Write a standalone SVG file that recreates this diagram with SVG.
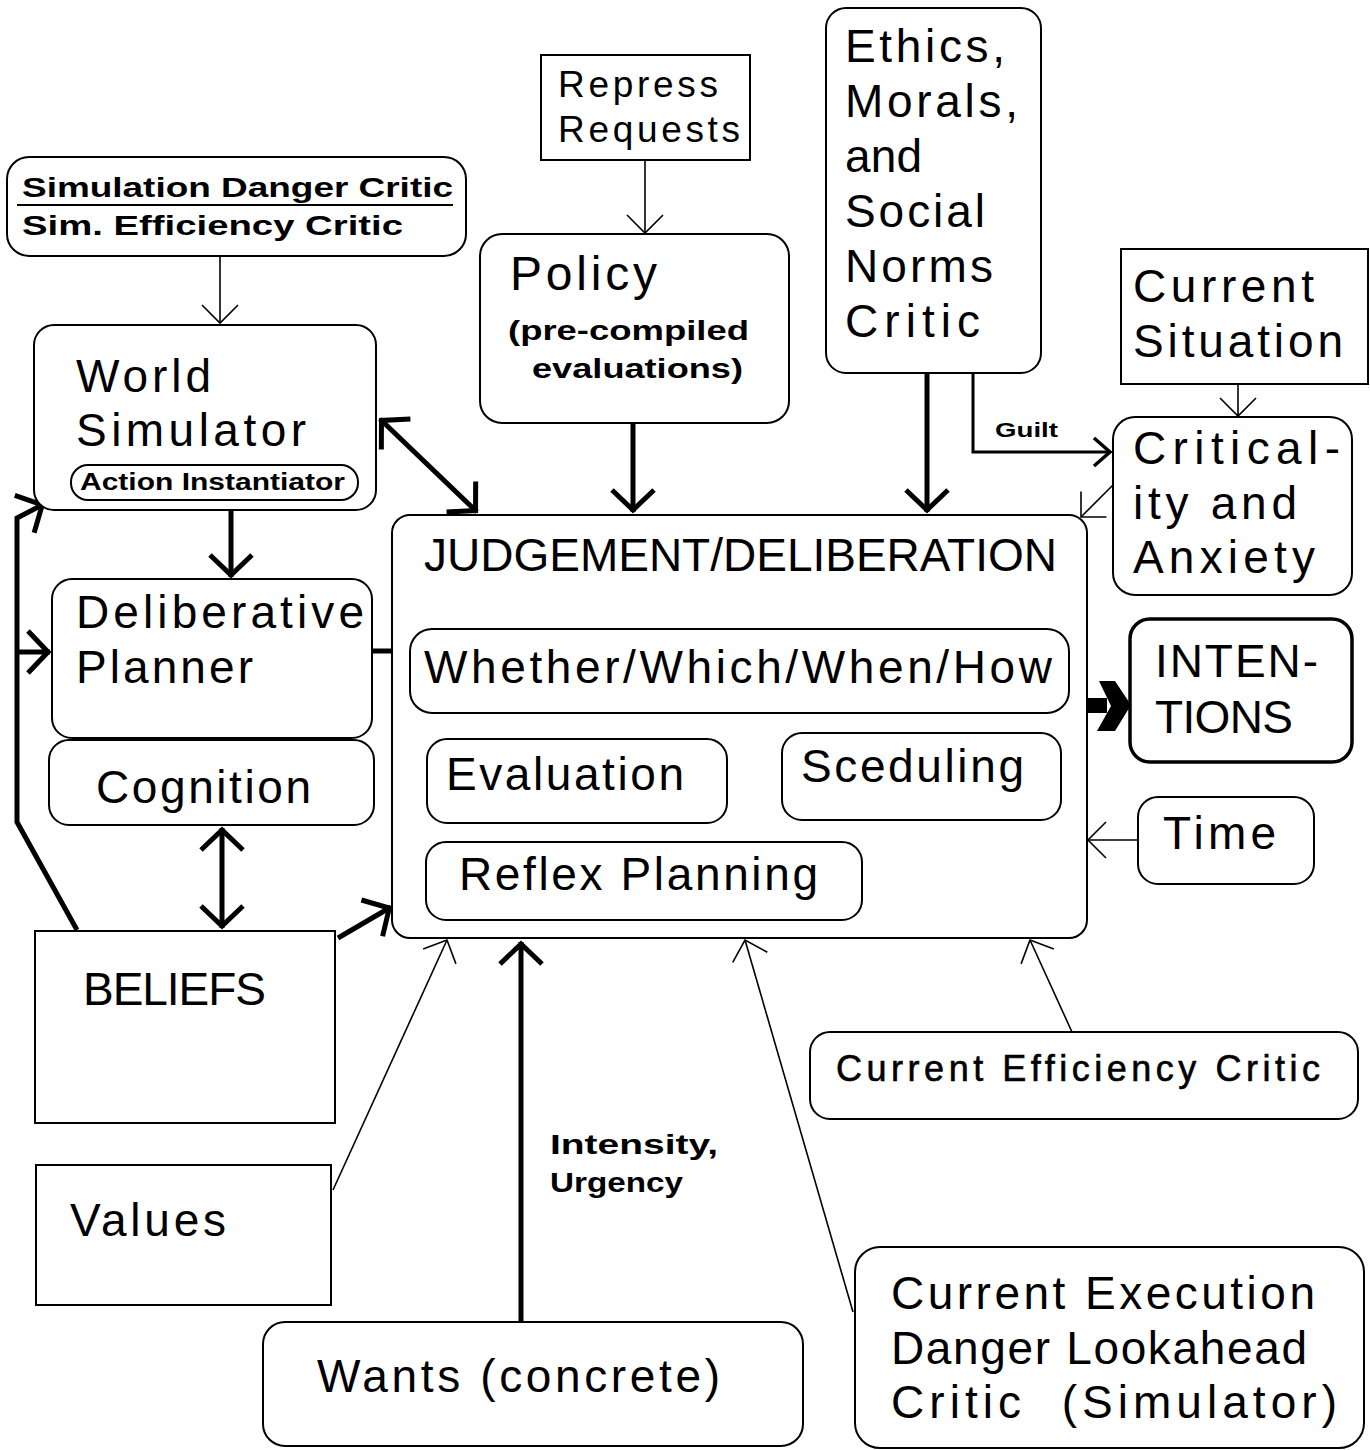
<svg xmlns="http://www.w3.org/2000/svg" width="1370" height="1450" viewBox="0 0 1370 1450">
  <style>
    .box { fill: #fff; stroke: #000; stroke-width: 2; }
    .heavy { fill: #fff; stroke: #000; stroke-width: 3.5; }
    .thin { fill: none; stroke: #000; stroke-width: 1.6; }
    .mid { fill: none; stroke: #000; stroke-width: 3; }
    .thick { fill: none; stroke: #000; stroke-width: 5; stroke-linejoin: miter; }
    text { font-family: "Liberation Sans Narrow", "Liberation Sans", Arial, sans-serif; fill: #000; }
    .big { font-size: 46px; }
    .med { font-size: 37px; }
    .bold { font-family: "Liberation Sans", Arial, sans-serif; font-weight: bold; }
  </style>
  <defs>
    <marker id="hThin" markerUnits="userSpaceOnUse" viewBox="-30 -30 40 60" markerWidth="40" markerHeight="60" refX="0" refY="0" orient="auto" overflow="visible">
      <path d="M-18,-18 L0,0 L-18,18" fill="none" stroke="#000" stroke-width="1.6"/>
    </marker>
    <marker id="hMid" markerUnits="userSpaceOnUse" viewBox="-30 -30 40 60" markerWidth="40" markerHeight="60" refX="0" refY="0" orient="auto" overflow="visible">
      <path d="M-16,-14 L0,0 L-16,14" fill="none" stroke="#000" stroke-width="3.5"/>
    </marker>
    <marker id="hThick" markerUnits="userSpaceOnUse" viewBox="-30 -30 40 60" markerWidth="40" markerHeight="60" refX="2" refY="0" orient="auto" overflow="visible">
      <path d="M-20,-21 L0,0 L-20,21" fill="none" stroke="#000" stroke-width="5"/>
    </marker>
    <marker id="hThick2" markerUnits="userSpaceOnUse" viewBox="-30 -30 40 60" markerWidth="40" markerHeight="60" refX="2" refY="0" orient="auto-start-reverse" overflow="visible">
      <path d="M-20,-21 L0,0 L-20,21" fill="none" stroke="#000" stroke-width="5"/>
    </marker>
  </defs>

  <rect width="1370" height="1450" fill="#fff"/>

  <!-- connectors -->
  <g id="connectors">
    <line class="thin" x1="220" y1="256" x2="220" y2="323" marker-end="url(#hThin)"/>
    <line class="thin" x1="645" y1="160" x2="645" y2="233" marker-end="url(#hThin)"/>
    <line class="thick" x1="633" y1="423" x2="633" y2="512" marker-end="url(#hThick)"/>
    <line class="thick" x1="927" y1="373" x2="927" y2="512" marker-end="url(#hThick)"/>
    <polyline class="mid" points="973,373 973,452 1110,452" marker-end="url(#hMid)"/>
    <line class="thin" x1="1238" y1="384" x2="1238" y2="416" marker-end="url(#hThin)"/>
    <line class="thin" x1="1113" y1="485" x2="1081" y2="517" marker-end="url(#hThin)"/>
    <!-- judgement to intentions: heavy filled arrow -->
    <rect x="1087" y="698" width="20" height="15" fill="#000"/>
    <polygon points="1099,681 1115,681 1131,705 1115,731 1097,731 1111,706" fill="#000"/>
    <line class="thin" x1="1138" y1="840" x2="1088" y2="840" marker-end="url(#hThin)"/>
    <line class="thin" x1="1072" y1="1032" x2="1030" y2="940" marker-end="url(#hThin)"/>
    <line class="thin" x1="853" y1="1312" x2="745" y2="940" marker-end="url(#hThin)"/>
    <line class="thick" x1="521" y1="1322" x2="521" y2="942" marker-end="url(#hThick)"/>
    <line class="thin" x1="333" y1="1190" x2="447" y2="940" marker-end="url(#hThin)"/>
    <line class="thick" x1="338" y1="938" x2="391" y2="907" marker-end="url(#hThick)"/>
    <line class="thick" x1="222" y1="828" x2="222" y2="928" marker-start="url(#hThick2)" marker-end="url(#hThick2)"/>
    <line class="thick" x1="380" y1="419" x2="477" y2="512" marker-start="url(#hThick2)" marker-end="url(#hThick2)"/>
    <line class="thick" x1="231" y1="511" x2="231" y2="577" marker-end="url(#hThick)"/>
    <line class="thick" x1="372" y1="651" x2="393" y2="651"/>
    <polyline class="thick" points="77,930 17,822 17,518 44,504" marker-end="url(#hThick)"/>
    <line class="thick" x1="17" y1="652" x2="50" y2="652" marker-end="url(#hThick)"/>
    <text x="995" y="437" class="bold" font-size="20" textLength="63" lengthAdjust="spacingAndGlyphs">Guilt</text>
    <text x="550" y="1154" class="bold" font-size="27" textLength="168" lengthAdjust="spacingAndGlyphs">Intensity,</text>
    <text x="550" y="1192" class="bold" font-size="27" textLength="133" lengthAdjust="spacingAndGlyphs">Urgency</text>
  </g>

  <g id="sim-critics">
    <rect class="box" x="7" y="157" width="459" height="99" rx="22"/>
    <line x1="17" y1="205" x2="453" y2="205" stroke="#000" stroke-width="2"/>
    <text x="22" y="197" class="bold" font-size="27" textLength="431" lengthAdjust="spacingAndGlyphs">Simulation Danger Critic</text>
    <text x="22" y="235" class="bold" font-size="27" textLength="381" lengthAdjust="spacingAndGlyphs">Sim. Efficiency Critic</text>
  </g>

  <g id="world-simulator">
    <rect class="box" x="34" y="325" width="342" height="185" rx="20"/>
    <text x="76" y="392" class="big" textLength="135" lengthAdjust="spacing">World</text>
    <text x="76" y="446" class="big" textLength="230" lengthAdjust="spacing">Simulator</text>
    <rect class="box" x="71" y="465" width="287" height="35" rx="17"/>
    <text x="80" y="490" class="bold" font-size="24" textLength="265" lengthAdjust="spacingAndGlyphs">Action Instantiator</text>
  </g>

  <g id="repress-requests">
    <rect class="box" x="541" y="55" width="209" height="105"/>
    <text x="558" y="97" class="med" textLength="160" lengthAdjust="spacing">Repress</text>
    <text x="558" y="142" class="med" textLength="182" lengthAdjust="spacing">Requests</text>
  </g>

  <g id="policy">
    <rect class="box" x="480" y="234" width="309" height="189" rx="22"/>
    <text x="510" y="290" font-size="48" textLength="147" lengthAdjust="spacing">Policy</text>
    <text x="508" y="340" class="bold" font-size="28" textLength="241" lengthAdjust="spacingAndGlyphs">(pre-compiled</text>
    <text x="532" y="378" class="bold" font-size="28" textLength="211" lengthAdjust="spacingAndGlyphs">evaluations)</text>
  </g>

  <g id="ethics-critic">
    <rect class="box" x="826" y="8" width="215" height="365" rx="20"/>
    <text x="845" y="62" class="big" textLength="160" lengthAdjust="spacing">Ethics,</text>
    <text x="845" y="117" class="big" textLength="173" lengthAdjust="spacing">Morals,</text>
    <text x="845" y="172" class="big" textLength="77" lengthAdjust="spacing">and</text>
    <text x="845" y="227" class="big" textLength="140" lengthAdjust="spacing">Social</text>
    <text x="845" y="282" class="big" textLength="148" lengthAdjust="spacing">Norms</text>
    <text x="845" y="337" class="big" textLength="135" lengthAdjust="spacing">Critic</text>
  </g>

  <g id="current-situation">
    <rect class="box" x="1121" y="249" width="247" height="135"/>
    <text x="1133" y="302" class="big" textLength="181" lengthAdjust="spacing">Current</text>
    <text x="1133" y="357" class="big" textLength="210" lengthAdjust="spacing">Situation</text>
  </g>

  <g id="criticality-anxiety">
    <rect class="box" x="1113" y="417" width="239" height="178" rx="22"/>
    <text x="1133" y="464" class="big" textLength="207" lengthAdjust="spacing">Critical-</text>
    <text x="1133" y="519" class="big" textLength="164" lengthAdjust="spacing">ity and</text>
    <text x="1133" y="573" class="big" textLength="182" lengthAdjust="spacing">Anxiety</text>
  </g>

  <g id="judgement-deliberation">
    <rect class="box" x="392" y="515" width="695" height="423" rx="18"/>
    <text x="424" y="571" class="big" textLength="633" lengthAdjust="spacing">JUDGEMENT/DELIBERATION</text>
  </g>

  <g id="whether-which-when-how">
    <rect class="box" x="410" y="629" width="659" height="84" rx="22"/>
    <text x="424" y="683" class="big" textLength="628" lengthAdjust="spacing">Whether/Which/When/How</text>
  </g>

  <g id="evaluation">
    <rect class="box" x="427" y="739" width="300" height="84" rx="20"/>
    <text x="446" y="790" class="big" textLength="238" lengthAdjust="spacing">Evaluation</text>
  </g>

  <g id="sceduling">
    <rect class="box" x="782" y="733" width="279" height="87" rx="20"/>
    <text x="801" y="782" class="big" textLength="223" lengthAdjust="spacing">Sceduling</text>
  </g>

  <g id="reflex-planning">
    <rect class="box" x="426" y="842" width="436" height="78" rx="20"/>
    <text x="459" y="890" class="big" textLength="359" lengthAdjust="spacing">Reflex Planning</text>
  </g>

  <g id="intentions">
    <rect class="heavy" x="1130" y="619" width="222" height="143" rx="20"/>
    <text x="1155" y="677" class="big" textLength="163" lengthAdjust="spacing">INTEN-</text>
    <text x="1155" y="733" class="big" textLength="138" lengthAdjust="spacing">TIONS</text>
  </g>

  <g id="time">
    <rect class="box" x="1138" y="797" width="176" height="87" rx="20"/>
    <text x="1163" y="849" class="big" textLength="113" lengthAdjust="spacing">Time</text>
  </g>

  <g id="deliberative-planner">
    <rect class="box" x="52" y="579" width="320" height="159" rx="20"/>
    <text x="76" y="628" class="big" textLength="288" lengthAdjust="spacing">Deliberative</text>
    <text x="76" y="683" class="big" textLength="177" lengthAdjust="spacing">Planner</text>
  </g>

  <g id="cognition">
    <rect class="box" x="49" y="740" width="325" height="85" rx="20"/>
    <text x="96" y="803" class="big" textLength="215" lengthAdjust="spacing">Cognition</text>
  </g>

  <g id="beliefs">
    <rect class="box" x="35" y="931" width="300" height="192"/>
    <text x="83" y="1005" class="big" textLength="183" lengthAdjust="spacing">BELIEFS</text>
  </g>

  <g id="values">
    <rect class="box" x="36" y="1165" width="295" height="140"/>
    <text x="70" y="1236" class="big" textLength="156" lengthAdjust="spacing">Values</text>
  </g>

  <g id="wants">
    <rect class="box" x="263" y="1322" width="540" height="124" rx="22"/>
    <text x="317" y="1392" class="big" textLength="403" lengthAdjust="spacing">Wants (concrete)</text>
  </g>

  <g id="current-efficiency-critic">
    <rect class="box" x="810" y="1032" width="548" height="87" rx="20"/>
    <text x="836" y="1081" font-size="36" stroke="#000" stroke-width="0.6" textLength="484" lengthAdjust="spacing">Current Efficiency Critic</text>
  </g>

  <g id="execution-danger-critic">
    <rect class="box" x="855" y="1247" width="509" height="201" rx="25"/>
    <text x="891" y="1309" class="big" textLength="424" lengthAdjust="spacing">Current Execution</text>
    <text x="891" y="1364" class="big" textLength="416" lengthAdjust="spacing">Danger Lookahead</text>
    <text x="891" y="1418" class="big" textLength="446" lengthAdjust="spacing" xml:space="preserve">Critic  (Simulator)</text>
  </g>
</svg>
